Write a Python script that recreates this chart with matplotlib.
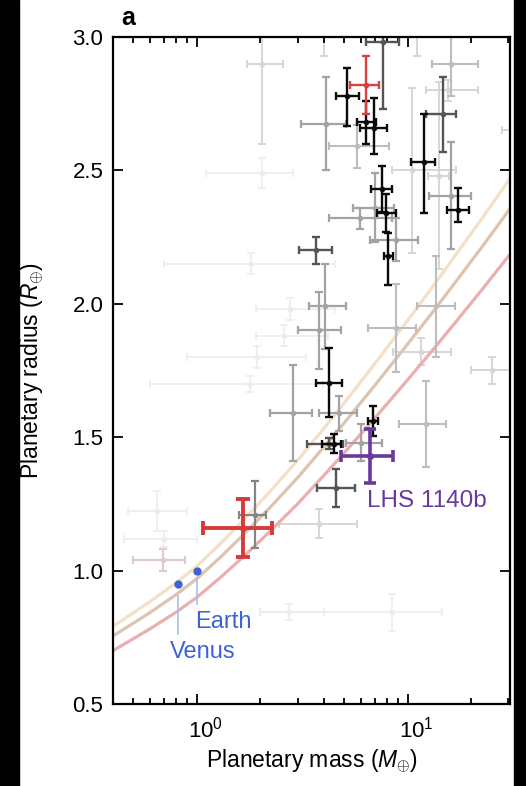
import numpy as np
import matplotlib
matplotlib.use('Agg')
import matplotlib.pyplot as plt
from matplotlib.ticker import FixedLocator, LogLocator, NullFormatter, FormatStrFormatter
from matplotlib.patches import Rectangle
from matplotlib.transforms import ScaledTranslation

plt.rcParams['font.family'] = ['Liberation Sans', 'DejaVu Sans']
plt.rcParams['mathtext.fontset'] = 'custom'
plt.rcParams['mathtext.rm'] = 'Liberation Sans'
plt.rcParams['mathtext.it'] = 'Liberation Sans:italic'
plt.rcParams['mathtext.bf'] = 'Liberation Sans:bold'

# composition curves (mass in Earth masses, radius in Earth radii)
curve_mass = [0.4, 0.5, 0.6, 0.8, 1.0, 1.3, 1.65, 2.2, 3.0, 4.0, 5.0,
              7.0, 10.0, 13.0, 17.0, 23.0, 31.0]
curve_upper = [0.791, 0.842, 0.884, 0.955, 1.017, 1.103, 1.187, 1.293, 1.413,
               1.533, 1.629, 1.777, 1.939, 2.060, 2.187, 2.331, 2.478]
curve_mid = [0.755, 0.803, 0.843, 0.911, 0.970, 1.052, 1.132, 1.233, 1.348,
             1.463, 1.554, 1.696, 1.850, 1.965, 2.086, 2.224, 2.364]
curve_lower = [0.700, 0.745, 0.782, 0.845, 0.900, 0.976, 1.050, 1.144, 1.250,
               1.357, 1.442, 1.573, 1.716, 1.823, 1.935, 2.063, 2.193]

# known planets: (mass, -err, +err, radius, -err, +err)
faint = [
    (2.03, 0.92, 0.81, 2.49, 0.055, 0.055),
    (1.8, 1.1, 2.7, 2.15, 0.04, 0.04),
    (1.92, 1.02, 1.38, 1.80, 0.04, 0.04),
    (1.78, 1.18, 2.2, 1.70, 0.03, 0.03),
    (0.65, 0.18, 0.25, 1.225, 0.075, 0.075),
    (8.4, 6.4, 6.1, 0.843, 0.07, 0.07),
    (2.74, 0.76, 1.26, 0.843, 0.03, 0.03),
    (0.70, 0.25, 0.30, 1.12, 0.03, 0.03),
    (2.75, 0.85, 1.75, 1.98, 0.04, 0.04),
    (2.6, 0.7, 1.6, 1.88, 0.04, 0.04),
]
pale = [
    (2.03, 0.31, 0.52, 2.90, 0.30, 0.10),
    (4.0, 0.4, 0.4, 3.10, 0.17, 0.17),
    (11.0, 1.0, 1.0, 3.10, 0.17, 0.17),
    (10.5, 2.1, 6.5, 2.50, 0.31, 0.31),
    (14.0, 1.5, 1.7, 2.48, 0.35, 0.35),
    (15.5, 3.3, 6.1, 2.80, 0.04, 0.04),
    (32.0, 4.0, 4.0, 2.65, 0.05, 0.05),
    (3.8, 1.34, 1.94, 1.176, 0.055, 0.055),
    (11.5, 3.0, 4.5, 1.82, 0.05, 0.05),
    (25.0, 5.0, 7.0, 1.75, 0.05, 0.05),
]
rosy = [
    (0.69, 0.19, 0.19, 1.04, 0.04, 0.04),
]
light = [
    (8.78, 2.3, 2.1, 1.91, 0.165, 0.165),
    (12.2, 3.1, 2.9, 1.55, 0.16, 0.16),
    (13.6, 2.6, 3.2, 1.99, 0.19, 0.19),
    (5.74, 1.5, 2.36, 2.59, 0.08, 0.08),
    (16.1, 3.1, 5.5, 2.90, 0.12, 0.12),
]
medium = [
    (2.84, 0.63, 0.68, 1.59, 0.18, 0.18),
    (4.05, 0.65, 1.05, 1.99, 0.16, 0.16),
    (3.8, 0.8, 1.03, 1.90, 0.145, 0.145),
    (4.1, 0.97, 1.0, 2.675, 0.175, 0.175),
    (4.73, 0.93, 1.0, 1.59, 0.065, 0.065),
    (6.0, 0.9, 1.5, 1.48, 0.07, 0.07),
    (5.9, 1.66, 2.5, 2.32, 0.04, 0.04),
    (7.0, 1.5, 1.6, 2.36, 0.13, 0.13),
    (8.78, 2.2, 2.4, 2.24, 0.08, 0.08),
    (16.1, 3.5, 3.9, 2.405, 0.2, 0.2),
]
grey = [
    (1.88, 0.3, 0.25, 1.21, 0.125, 0.125),
]
dark = [
    (14.6, 2.4, 2.4, 2.71, 0.14, 0.14),
    (3.68, 0.62, 0.7, 2.20, 0.05, 0.05),
    (4.57, 0.85, 1.05, 1.31, 0.07, 0.07),
    (7.6, 1.3, 1.5, 2.98, 0.25, 0.25),
    (4.24, 0.9, 0.7, 1.476, 0.02, 0.02),
]
black = [
    (5.15, 0.58, 0.72, 2.78, 0.115, 0.105),
    (6.9, 1.0, 1.05, 2.66, 0.10, 0.11),
    (6.3, 0.55, 0.8, 2.68, 0.08, 0.08),
    (11.9, 1.5, 1.5, 2.53, 0.19, 0.18),
    (17.2, 1.9, 2.4, 2.35, 0.045, 0.085),
    (7.5, 0.8, 0.9, 2.43, 0.085, 0.085),
    (7.9, 0.75, 0.9, 2.34, 0.07, 0.07),
    (8.05, 0.35, 0.45, 2.18, 0.11, 0.085),
    (4.24, 0.56, 0.64, 1.705, 0.13, 0.13),
    (4.48, 0.55, 0.35, 1.476, 0.035, 0.035),
    (6.85, 0.35, 0.4, 1.56, 0.056, 0.056),
]
red_small = [
    (6.3, 1.0, 1.0, 2.82, 0.11, 0.11),
]
red_big = [
    (1.65, 0.58, 0.61, 1.16, 0.11, 0.11),
]
lhs1140b = [
    (6.65, 1.82, 1.82, 1.43, 0.10, 0.10),
]
earth = (1.0, 1.0)
venus = (0.815, 0.95)

fig = plt.figure(figsize=(5.26, 7.86), dpi=100)
ax = fig.add_axes([113/526, 1 - 704/786, 397/526, 667/786])


def draw(rows, color, lw=1.5, cap=3.2, ms=3, z=2):
    m, mlo, mhi, r, rlo, rhi = np.array(rows, dtype=float).T
    ax.errorbar(m, r, xerr=[mlo, mhi], yerr=[rlo, rhi], fmt='o', ms=ms,
                color=color, ecolor=color, elinewidth=lw, capsize=cap,
                capthick=lw, zorder=z)


draw(faint, '#ececec', lw=1.2, z=1)
draw(pale, '#d6d6d6', lw=1.4, z=1.1)
draw(rosy, '#dccbcb', lw=1.5, z=1.1)

ax.plot(curve_mass, curve_upper, color='#f3e0c8', lw=2.3, zorder=1.5)
ax.plot(curve_mass, curve_mid, color='#dcc4b0', lw=2.3, zorder=1.5)
ax.plot(curve_mass, curve_lower, color='#eab0b0', lw=2.3, zorder=1.5)

draw(light, '#bdbdbd', lw=1.5, z=2)
draw(medium, '#a3a3a3', lw=1.6, z=2.1)
draw(grey, '#858585', lw=1.6, z=2.2)
draw(dark, '#555555', lw=1.7, z=2.3)
draw(black, '#0a0a0a', lw=1.7, z=2.5)
draw(red_small, '#d94141', lw=1.7, z=2.6)
draw(red_big, '#d63b3b', lw=2.8, cap=5, ms=4, z=3)
draw(lhs1140b, '#673a9c', lw=2.6, cap=4.5, ms=4, z=3)

# Earth and Venus
ax.plot([earth[0], earth[0]], [0.974, 0.876], color='#a9bdf2', lw=1.2, zorder=2)
ax.plot([venus[0], venus[0]], [0.906, 0.764], color='#a9bdf2', lw=1.2, zorder=2)
ax.plot([earth[0], venus[0]], [earth[1], venus[1]], 'o', color='#3f63d6',
        ms=5, zorder=3, ls='none')
ax.text(0.98, 0.786, 'Earth', color='#3f63d6', fontsize=17, va='baseline')
ax.text(0.746, 0.674, 'Venus', color='#3f63d6', fontsize=17, va='baseline')
ax.text(6.4, 1.24, 'LHS 1140b', color='#673a9c', fontsize=17.5, va='baseline')

ax.set_xscale('log')
ax.set_xlim(0.4, 30.5)
ax.set_ylim(0.5, 3.0)
ax.xaxis.set_major_locator(LogLocator(base=10, numticks=10))
ax.xaxis.set_minor_locator(LogLocator(base=10, subs=np.arange(2, 10), numticks=20))
ax.xaxis.set_minor_formatter(NullFormatter())
ax.yaxis.set_major_locator(FixedLocator([0.5, 1.0, 1.5, 2.0, 2.5, 3.0]))
ax.yaxis.set_major_formatter(FormatStrFormatter('%.1f'))

ax.tick_params(which='both', direction='in', top=True, right=True,
               width=1.3, labelsize=16, color='black')
ax.tick_params(which='major', length=7)
ax.tick_params(which='minor', length=4)
ax.tick_params(axis='y', pad=7)
ax.tick_params(axis='x', pad=9)
for s in ax.spines.values():
    s.set_linewidth(1.6)

ax.set_xlabel(r'Planetary mass ($M_{\oplus}$)', fontsize=16.5)
ax.set_ylabel(r'Planetary radius ($R_{\oplus}$)', fontsize=16.5)
ax.xaxis.set_label_coords(0.5, -0.064)
ax.yaxis.set_label_coords(-0.169, 0.5)

fig.text(121/526, 1 - 25/786, 'a', fontsize=18, fontweight='bold', va='baseline')

# dark side bands
fig.patches.append(Rectangle((0, 0), 19/526, 1, transform=fig.transFigure,
                             color='black', zorder=-1))
fig.patches.append(Rectangle((514/526, 0), 12/526, 1, transform=fig.transFigure,
                             color='black', zorder=-1))

# nudge the decade labels a little to the right
fig.canvas.draw()
shift = ScaledTranslation(6/72, 0, fig.dpi_scale_trans)
for t in ax.xaxis.get_major_ticks():
    t.label1.set_transform(t.label1.get_transform() + shift)

fig.savefig('out.png', dpi=100, facecolor='white')
